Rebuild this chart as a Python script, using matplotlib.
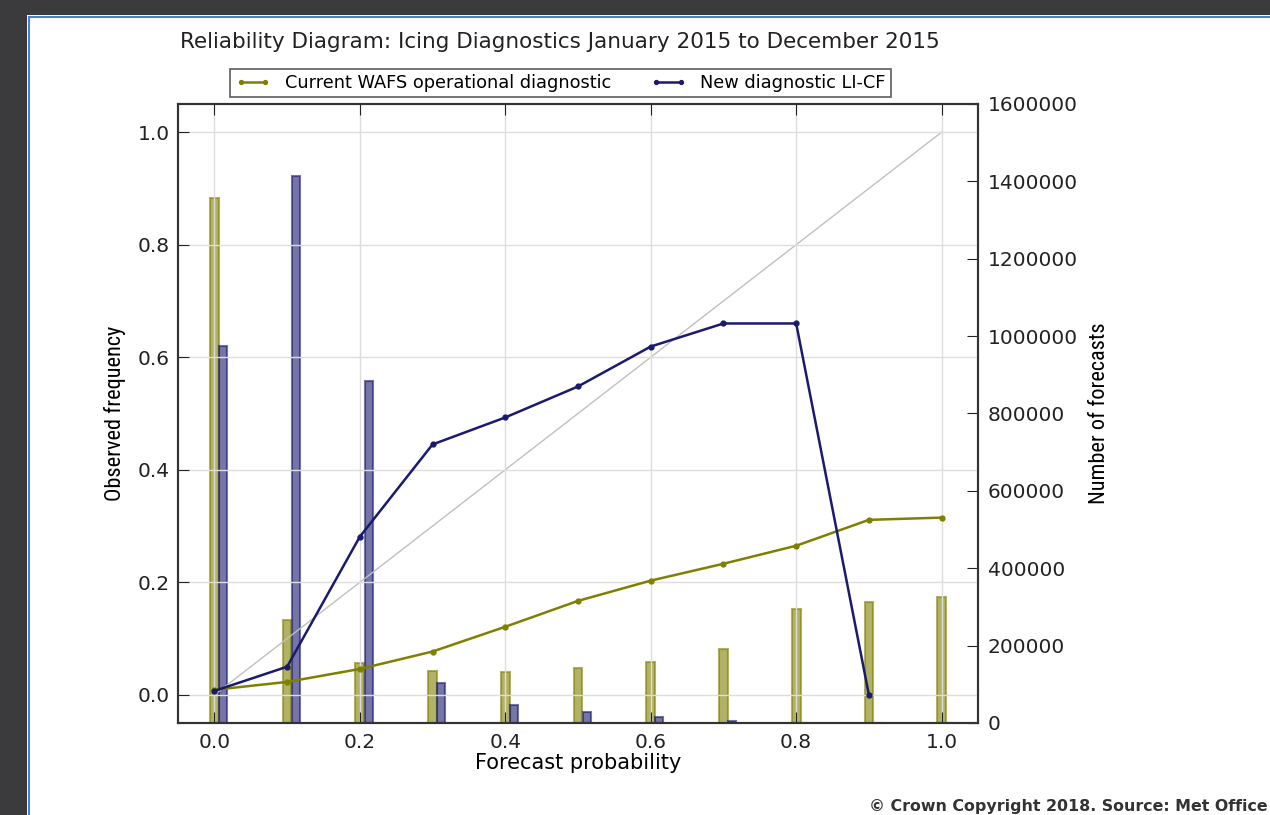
import matplotlib
matplotlib.use("Agg")
import matplotlib.pyplot as plt
from matplotlib.patches import Rectangle
from matplotlib.lines import Line2D
from matplotlib import font_manager
import numpy as np

# ---- data ----
prob = [0.0, 0.1, 0.2, 0.3, 0.4, 0.5, 0.6, 0.7, 0.8, 0.9, 1.0]
obs_current = [0.009, 0.023, 0.046, 0.077, 0.121, 0.167, 0.203, 0.233, 0.265, 0.311, 0.315]
prob_new = [0.0, 0.1, 0.2, 0.3, 0.4, 0.5, 0.6, 0.7, 0.8, 0.9]
obs_new = [0.007, 0.050, 0.281, 0.445, 0.493, 0.548, 0.619, 0.660, 0.660, 0.0]
count_current = [1357000, 266000, 155000, 134000, 132000, 143000, 158000, 191000, 294000, 312000, 325000]
count_new = [974000, 1414000, 884000, 104000, 46000, 28000, 15500, 4400, 900, 0, 0]

title = "Reliability Diagram: Icing Diagnostics January 2015 to December 2015"
label_current = "Current WAFS operational diagnostic"
label_new = "New diagnostic LI-CF"

olive = "#808000"
navy = "#1a1a6e"

# pick a narrow font for the axis labels if one is available
names = {f.name for f in font_manager.fontManager.ttflist}
narrow = None
for cand in ["Liberation Sans Narrow", "DejaVu Sans Condensed", "Roboto Condensed", "Open Sans Condensed"]:
    if cand in names:
        narrow = cand
        break
if narrow is None:
    narrow = "DejaVu Sans"

fig = plt.figure(figsize=(12.7, 8.15), dpi=100)
fig.patch.set_facecolor("white")

# screenshot frame decoration
fig.patches.append(Rectangle((0, 1 - 15 / 815), 1, 15 / 815, transform=fig.transFigure,
                             facecolor="#3b3b3d", edgecolor="none", zorder=-10))
fig.patches.append(Rectangle((0, 0), 27 / 1270, 1, transform=fig.transFigure,
                             facecolor="#3b3b3d", edgecolor="none", zorder=-10))
fig.add_artist(Line2D([28.5 / 1270, 1], [1 - 16.5 / 815, 1 - 16.5 / 815], transform=fig.transFigure,
                      color="#4a7fd4", lw=1.5))
fig.add_artist(Line2D([28.5 / 1270, 28.5 / 1270], [0, 1 - 16.5 / 815], transform=fig.transFigure,
                      color="#4a7fd4", lw=1.5))

ax = fig.add_axes([178 / 1270, 1 - 723 / 815, 800 / 1270, 619 / 815])
ax2 = ax.twinx()

# bars on the right axis
x = np.array(prob)
ax2.bar(x, count_current, width=0.012, align="center", color=olive, alpha=0.6,
        edgecolor=olive, linewidth=1.5, zorder=2)
ax2.bar(x + 0.012, count_new, width=0.011, align="center", color=navy, alpha=0.6,
        edgecolor=navy, linewidth=1.5, zorder=2)
ax2.set_ylim(0, 1600000)
ax2.set_yticks(np.arange(0, 1600001, 200000))
ax2.set_yticklabels([str(v) for v in range(0, 1600001, 200000)])
ax2.tick_params(axis="y", direction="in", length=8, pad=7, labelsize=14.5, colors="#222222")
ax2.set_ylabel("Number of forecasts", fontsize=16, family=narrow, labelpad=8)

# lines on the left axis (drawn above bars)
ax.set_zorder(ax2.get_zorder() + 1)
ax.patch.set_visible(False)
ax.plot([0, 1], [0, 1], color="#c0c0c0", lw=1, zorder=1)
ax.plot(prob, obs_current, color=olive, lw=1.8, marker="o", ms=3.5, label=label_current, zorder=3)
ax.plot(prob_new, obs_new, color=navy, lw=1.8, marker="o", ms=3.5, label=label_new, zorder=3)

ax.set_xlim(-0.05, 1.05)
ax.set_ylim(-0.05, 1.05)
ax.set_xticks([0.0, 0.2, 0.4, 0.6, 0.8, 1.0])
ax.set_yticks([0.0, 0.2, 0.4, 0.6, 0.8, 1.0])
ax.grid(True, color="#dddddd", lw=1)
ax.tick_params(axis="both", direction="in", length=8, labelsize=14.5, colors="#222222",
               top=True)
ax.tick_params(axis="y", pad=6)
ax.tick_params(axis="x", pad=7)
ax.set_xlabel("Forecast probability", fontsize=15, labelpad=1)
ax.set_ylabel("Observed frequency", fontsize=16, family=narrow, labelpad=8)

for a in (ax, ax2):
    for s in a.spines.values():
        s.set_color("#333333")
        s.set_linewidth(1.5)

leg = ax.legend(loc="lower center", bbox_to_anchor=(0.478, 1.011), ncol=2, fontsize=12.8,
                numpoints=2, frameon=True, fancybox=False, edgecolor="#333333",
                handlelength=2.0, columnspacing=2.2, borderpad=0.3, markerscale=0.8,
                borderaxespad=0)
leg.get_frame().set_linewidth(1.2)

fig.text(560 / 1270, 1 - 42 / 815, title, ha="center", va="center", fontsize=15.5, color="#222222")
fig.text(1268 / 1270, 1 - 806 / 815, "© Crown Copyright 2018. Source: Met Office",
         ha="right", va="center", fontsize=11.4, color="#333333", fontweight="bold")

fig.savefig("out.png", dpi=100, facecolor="white")
